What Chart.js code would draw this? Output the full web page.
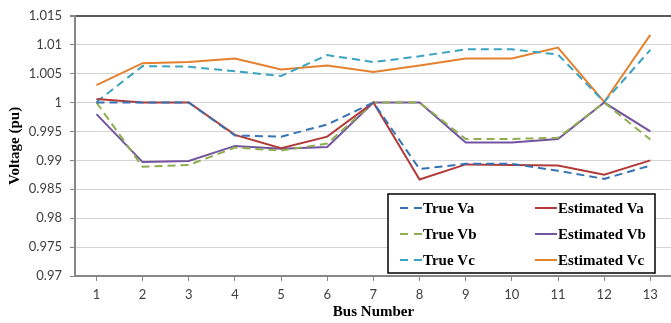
<!DOCTYPE html>
<html>
<head>
<meta charset="utf-8">
<script src="https://cdn.jsdelivr.net/npm/chart.js@4"></script>
<style>
  html, body { margin: 0; padding: 0; background: #fff; overflow: hidden; }
  #wrap { width: 680px; height: 323px; }
</style>
</head>
<body>
<div id="wrap"><canvas id="myChart" width="680" height="323"></canvas></div>
<script>
var buses = [1, 2, 3, 4, 5, 6, 7, 8, 9, 10, 11, 12, 13];
var yTicks = [0.97, 0.975, 0.98, 0.985, 0.99, 0.995, 1, 1.005, 1.01, 1.015];

var trueVa = [1.0, 1.0, 1.0, 0.9943, 0.9941, 0.9962, 1.0, 0.9885, 0.9894, 0.9894, 0.9882, 0.9868, 0.9891];
var estVa  = [1.0006, 1.0, 1.0, 0.9944, 0.9921, 0.9941, 1.0, 0.9867, 0.9893, 0.9892, 0.9891, 0.9875, 0.99];
var trueVb = [1.0, 0.9889, 0.9892, 0.9922, 0.9917, 0.9929, 1.0, 1.0, 0.9937, 0.9937, 0.9939, 1.0, 0.9936];
var estVb  = [0.998, 0.9897, 0.9899, 0.9925, 0.992, 0.9923, 1.0, 1.0, 0.9931, 0.9931, 0.9937, 1.0, 0.995];
var trueVc = [1.0001, 1.0063, 1.0062, 1.0054, 1.0046, 1.0082, 1.007, 1.008, 1.0092, 1.0092, 1.0083, 1.0001, 1.0091];
var estVc  = [1.003, 1.0068, 1.007, 1.0076, 1.0057, 1.0064, 1.0053, 1.0064, 1.0076, 1.0076, 1.0095, 1.0001, 1.0117];

function pts(vals) {
    return vals.map(function (v, i) { return { x: buses[i], y: v }; });
}

function ds(label, vals, color, dashed) {
    return {
        label: label,
        data: pts(vals),
        borderColor: color,
        backgroundColor: color,
        borderWidth: 2,
        borderDash: dashed ? [8, 5] : [],
        pointRadius: 0,
        tension: 0,
        fill: false
    };
}

var serif = "'Liberation Serif', 'Times New Roman', serif";

// legend drawn inside the plot, two columns like the original
var boxLegend = {
    id: 'boxLegend',
    afterDraw: function (chart) {
        var c = chart.ctx;
        var x0 = 388, y0 = 194, w = 267, h = 79;
        c.save();
        c.fillStyle = '#fff';
        c.fillRect(x0, y0, w, h);
        c.strokeStyle = '#000';
        c.lineWidth = 1.5;
        c.strokeRect(x0, y0, w, h);
        c.font = 'bold 15px ' + serif;
        c.textBaseline = 'middle';
        var order = [[0, 1], [2, 3], [4, 5]];
        order.forEach(function (row, r) {
            var y = y0 + 14 + r * 26;
            row.forEach(function (idx, col) {
                var d = chart.data.datasets[idx];
                var lx = col === 0 ? 400 : 535;
                c.strokeStyle = d.borderColor;
                c.lineWidth = 2;
                c.setLineDash(d.borderDash.length ? [8, 6] : []);
                c.beginPath();
                c.moveTo(lx, y);
                c.lineTo(lx + 22, y);
                c.stroke();
                c.setLineDash([]);
                c.fillStyle = '#000';
                c.fillText(d.label, lx + 23, y + 1);
            });
        });
        c.restore();
    }
};

var config = {
    type: 'line',
    data: {
        datasets: [
            ds('True Va', trueVa, '#3573b5', true),
            ds('Estimated Va', estVa, '#b23a38', false),
            ds('True Vb', trueVb, '#8fae4e', true),
            ds('Estimated Vb', estVb, '#7454a0', false),
            ds('True Vc', trueVc, '#3aa3c2', true),
            ds('Estimated Vc', estVc, '#e5802c', false)
        ]
    },
    options: {
        responsive: false,
        animation: false,
        layout: { padding: { top: 14, right: 8, left: 0, bottom: 0 } },
        plugins: {
            legend: { display: false },
            tooltip: { enabled: false }
        },
        scales: {
            x: {
                type: 'linear',
                min: 0.535,
                max: 13.47,
                afterBuildTicks: function (scale) {
                    scale.ticks = buses.map(function (b) { return { value: b }; });
                },
                afterFit: function (scale) { scale.height = 47; },
                border: { color: '#878787', width: 2 },
                grid: { drawOnChartArea: false, drawTicks: true, tickLength: 5, tickColor: '#878787' },
                ticks: {
                    color: '#404040',
                    font: { family: 'Lato', size: 13 },
                    padding: 6,
                    maxRotation: 0
                },
                title: {
                    display: true,
                    text: 'Bus Number',
                    color: '#000',
                    font: { family: serif, size: 15, weight: 'bold' },
                    padding: { top: 0, bottom: 2 }
                }
            },
            y: {
                min: 0.97,
                max: 1.015,
                afterBuildTicks: function (scale) {
                    scale.ticks = yTicks.map(function (v) { return { value: v }; });
                },
                afterFit: function (scale) { scale.width = 75; },
                border: { color: '#878787', width: 2 },
                grid: {
                    color: function (ctx) { return ctx.tick && ctx.tick.value === 1.015 ? '#5a5a5a' : '#d4d4d4'; },
                    lineWidth: function (ctx) { return ctx.tick && ctx.tick.value === 1.015 ? 2 : 1; },
                    tickLength: 5,
                    tickColor: '#878787'
                },
                ticks: {
                    color: '#404040',
                    font: { family: 'Lato', size: 13 },
                    padding: 8,
                    callback: function (v) { return String(+v.toFixed(3)); }
                },
                title: {
                    display: true,
                    text: 'Voltage (pu)',
                    color: '#000',
                    font: { family: serif, size: 15, weight: 'bold' },
                    padding: { top: 6, bottom: 0 }
                }
            }
        }
    },
    plugins: [boxLegend]
};

var ctx = document.getElementById('myChart').getContext('2d');
var myChart = new Chart(ctx, config);
</script>
</body>
</html>
